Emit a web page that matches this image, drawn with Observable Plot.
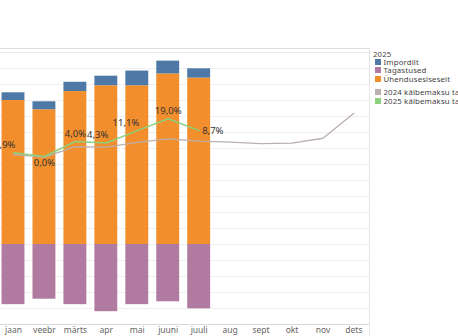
<!DOCTYPE html>
<html>
<head>
<meta charset="utf-8">
<script src="https://cdn.jsdelivr.net/npm/d3@7"></script>
<script src="https://cdn.jsdelivr.net/npm/@observablehq/plot@0.6"></script>
<style>
  body { margin: 0; background: #fff; font-family: "Noto Sans", sans-serif; }
  #wrap { position: relative; width: 458px; height: 336px; overflow: hidden; }
  #wrap svg { position: absolute; left: -40px; top: 0; max-width: none !important; width: 498px; height: 346px !important; }
  .lg { position: absolute; font-size: 7.8px; color: #444; white-space: nowrap; line-height: 8px; height: 8px; display: flex; align-items: center; letter-spacing: 0.15px; }
  .lg .sw { width: 6px; height: 6px; margin-right: 2.5px; }
</style>
</head>
<body>
<div id="wrap"></div>
<script>
const months = ["jaan","veebr","märts","apr","mai","juuni","juuli","aug","sept","okt","nov","dets"];
const seriesNames = ["Impordilt","Tagastused","Ühendusesiseselt"];
const impordilt = [24, 25, 29, 30, 46, 40, 29];
const tagastused = [-188, -171, -188, -210, -188, -179, -201];
const yhendusesiseselt = [450, 421, 478, 496, 496, 533, 520];
const tasumine2024 = [281, 273, 306, 304, 319, 330, 323, 320, 315, 317, 332, 410];
const tasumine2025 = [287, 275, 322, 317, 356, 393, 356];
const kasvuLabels = ["2,9%","0,0%","4,0%","4,3%","11,1%","19,0%","8,7%"];
const lineNames = ["2024 käibemaksu tasumine","2025 käibemaksu tasumine"];
const gridValues = [-250,-200,-150,-100,-50,0,50,100,150,200,250,300,350,400,450,500,550,600];

// label placement (style, not data)
const placement = ["left","below","above","left","left","above","right"];

const colors = {"Impordilt":"#4e79a7","Tagastused":"#b07aa1","Ühendusesiseselt":"#f28e2b"};
const lineColors = ["#bab0ac","#8cd17d"];

const bars = [];
months.slice(0, impordilt.length).forEach((m, i) => {
  bars.push({month: m, series: "Ühendusesiseselt", value: yhendusesiseselt[i], order: 0});
  bars.push({month: m, series: "Impordilt", value: impordilt[i], order: 1});
  bars.push({month: m, series: "Tagastused", value: tagastused[i], order: 2});
});
const l2024 = tasumine2024.map((v, i) => ({month: months[i], value: v}));
const l2025 = tasumine2025.map((v, i) => ({month: months[i], value: v, label: kasvuLabels[i], place: placement[i]}));

const textStyle = {fontSize: 9.5, fill: "#333", fontFamily: "Noto Sans, sans-serif"};

const chart = Plot.plot({
  width: 498,
  height: 346,
  marginLeft: 37.6,
  marginRight: 89,
  marginTop: 48,
  marginBottom: 22,
  style: {fontFamily: "Noto Sans, sans-serif", background: "transparent"},
  x: {domain: months, range: [33.5, 412.9], padding: 0.26, round: false, axis: null},
  y: {domain: [-250, 612.5], axis: null},
  marks: [
    Plot.ruleY(gridValues, {stroke: "#efefef", strokeWidth: 1}),
    Plot.barY(bars, {x: "month", y: "value", fill: d => colors[d.series], order: "order"}),
    Plot.line(l2024, {x: "month", y: "value", stroke: lineColors[0], strokeWidth: 1.3}),
    Plot.line(l2025, {x: "month", y: "value", stroke: lineColors[1], strokeWidth: 1.5}),
    Plot.text(l2025.filter(d => d.place === "above"), {x: "month", y: "value", text: "label", dy: -8, textAnchor: "middle", ...textStyle}),
    Plot.text(l2025.filter(d => d.place === "below"), {x: "month", y: "value", text: "label", dy: 6, textAnchor: "middle", ...textStyle}),
    Plot.text(l2025.filter(d => d.place === "left"), {x: "month", y: "value", text: "label", dy: -8, dx: 2, textAnchor: "end", ...textStyle}),
    Plot.text(l2025.filter(d => d.place === "right"), {x: "month", y: "value", text: "label", dy: 0, dx: 3, textAnchor: "start", ...textStyle}),
    Plot.ruleY([-250], {stroke: "#d9d9d9", strokeWidth: 1.2}),
    Plot.axisX({tickSize: 0, tickPadding: 2.5, fontSize: 8.5, fill: "#666", label: null})
  ]
});
document.getElementById("wrap").appendChild(chart);

const wrap = document.getElementById("wrap");
// top and right borders of the plot pane
const topBorder = document.createElement("div");
topBorder.style.cssText = "position:absolute;left:0;top:48px;width:369px;height:1px;background:#dedede;";
wrap.appendChild(topBorder);
const border = document.createElement("div");
border.style.cssText = "position:absolute;left:368.5px;top:48px;width:1px;height:288px;background:#e6e6e6;";
wrap.appendChild(border);

const addRow = (top, html) => {
  const d = document.createElement("div");
  d.className = "lg";
  d.style.left = "373px";
  d.style.top = top + "px";
  d.innerHTML = html;
  wrap.appendChild(d);
};
addRow(50, "2025");
const rowTops = [57.5, 66.3, 75.3];
seriesNames.forEach((n, i) => addRow(rowTops[i], `<span class="sw" style="margin-left:2px;background:${colors[n]}"></span>${n}`));
const lineTops = [88.3, 97];
lineNames.forEach((n, i) => addRow(lineTops[i], `<span class="sw" style="margin-left:2px;background:${lineColors[i]}"></span>${n}`));
</script>
</body>
</html>
